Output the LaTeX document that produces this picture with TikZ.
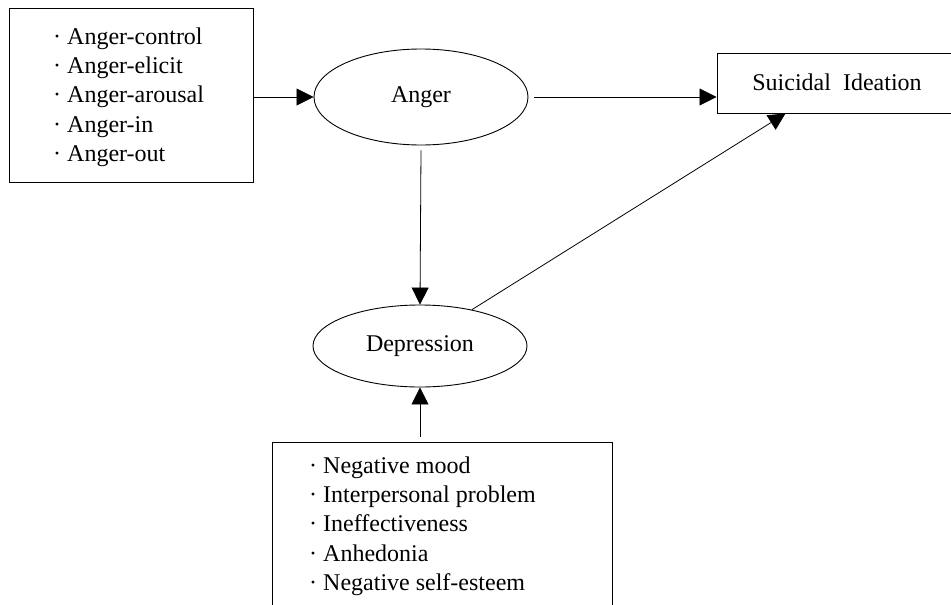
\documentclass[tikz,border=0pt]{standalone}
\usepackage{fontspec}
\setmainfont{Liberation Serif}
\usetikzlibrary{shapes.geometric,arrows.meta}
\begin{document}
\begin{tikzpicture}[x=1pt,y=-1pt,
  boxnode/.style={draw, line width=1pt, rectangle, inner sep=0pt},
  ellnode/.style={draw, line width=0.9pt, ellipse, inner sep=0pt, font=\fontsize{24}{28}\selectfont},
  listtext/.style={align=left, inner sep=0pt, anchor=west, font=\fontsize{24}{29.3}\selectfont},
  arr/.style={line width=0.8pt, -{Triangle[length=17pt,width=17pt]}}]
\clip (0,0) rectangle (951,605);
\fill[white] (0,0) rectangle (951,605);
% left box
\node[boxnode, minimum width=244pt, minimum height=174pt] (lbox) at (131,95) {};
\node[listtext] (ltext) at (53,97) {· Anger-control\\· Anger-elicit\\· Anger-arousal\\· Anger-in\\· Anger-out};
% ellipses
\node[ellnode, minimum width=214pt, minimum height=96pt] (anger) at (421,97) {Anger};
\node[ellnode, minimum width=214pt, minimum height=82pt] (dep) at (420,346) {Depression};
% suicidal ideation box
\node[boxnode, minimum width=243pt, minimum height=60pt] (si) at (838.5,83) {};
\node[inner sep=0pt, font=\fontsize{24}{28}\selectfont] (sitext) at (837,82) {Suicidal\ \ Ideation};
% bottom box
\node[boxnode, minimum width=340pt, minimum height=180pt] (bbox) at (442,532) {};
\node[listtext] (btext) at (309,526) {· Negative mood\\· Interpersonal problem\\· Ineffectiveness\\· Anhedonia\\· Negative self-esteem};
% connectors
\draw[arr] (lbox.east |- anger) -- (anger.west);
\draw[arr] ([xshift=6pt]anger.east) -- (si.west |- anger);
\draw[arr] ([yshift=-5pt]anger.south) -- (dep.north);
\draw[arr] (dep.35) -- ([xshift=-53pt]si.south);
\draw[arr] ([yshift=5pt]bbox.north -| dep.south) -- (dep.south);
\end{tikzpicture}
\end{document}
